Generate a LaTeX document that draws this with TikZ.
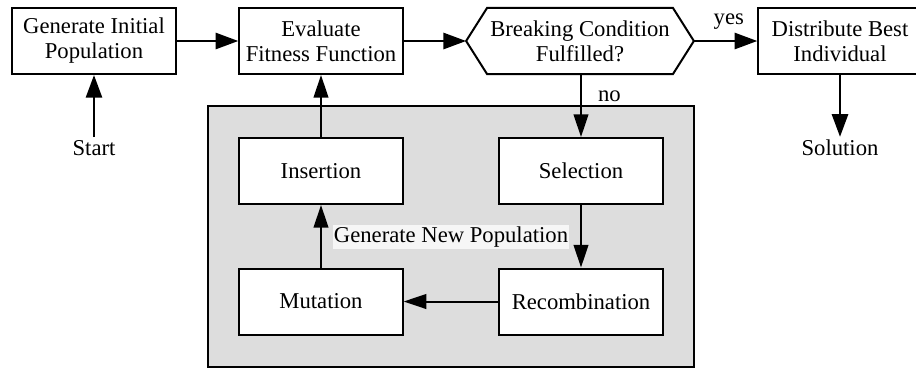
\documentclass[tikz,border=0pt]{standalone}
\usepackage{fontspec}
\setmainfont{Liberation Serif}
\usetikzlibrary{arrows.meta,calc}

\tikzset{every picture/.style={line width=0.75pt}}
\tikzset{
  procbox/.style={draw, line width=1.5pt, fill=white, align=center,
    minimum width=122.5pt, minimum height=49.5pt, inner sep=2pt},
  plaintext/.style={align=center, inner sep=2pt},
  flowarrow/.style={line width=2pt, -{Triangle[length=17pt,width=12pt]}},
  innerarrow/.style={line width=1.5pt, -{Triangle[length=17pt,width=11pt]}}
}

\begin{document}
\begin{tikzpicture}[x=0.75pt,y=0.75pt,yscale=-1,xscale=1,
  every node/.style={font=\fontsize{17}{18.8}\selectfont}]
\useasboundingbox (0,0) rectangle (916,380);

%Shape: grey panel of the inner loop
\draw [fill={rgb, 255:red, 221; green, 221; blue, 221 }, line width=1.5pt] (208,106) rectangle (694,367);

% Top row
\node (init) [procbox] at (94,41) {Generate Initial\\Population};
\node (eval) [procbox] at (321,41) {Evaluate\\Fitness Function};
\node (cond) [plaintext, minimum width=136.5pt, minimum height=49pt] at (580,41) {Breaking Condition\\Fulfilled?};
\node (best) [procbox] at (840,41) {Distribute Best\\Individual};

% Hexagon round the condition
\coordinate (condL) at ($(cond.west)+(-21,0)$);
\coordinate (condR) at ($(cond.east)+(21,0)$);
\draw [line width=1.5pt] (cond.north west) -- (cond.north east) -- (condR) -- (cond.south east) -- (cond.south west) -- (condL) -- cycle;

% Start and end
\node (start) [plaintext] at (94,148) {Start};
\node (solution) [plaintext] at (840,148) {Solution};

% Inner loop
\node (insert) [procbox] at (321,171) {Insertion};
\node (select) [procbox] at (581,171) {Selection};
\node (mutate) [procbox] at (321,301.5) {Mutation};
\node (recomb) [procbox] at (581,301.5) {Recombination};

% Connectors
\draw [flowarrow] (start) -- (init);
\draw [flowarrow] (init) -- (eval);
\draw [flowarrow] (eval) -- (condL);
\draw [flowarrow] (condR) -- (best) node [pos=0.55, above=6pt, plaintext] (yes) {yes};
\draw [flowarrow] (best) -- (solution);
\draw [innerarrow] (cond.south -| select.north) -- (select.north) node [pos=0.35, right=10pt, plaintext] (no) {no};
\draw [innerarrow] (select) -- (recomb);
\draw [innerarrow] (recomb) -- (mutate);
\draw [innerarrow] (mutate) -- (insert);
\draw [innerarrow] (insert) -- (eval);

% Text Node
\node (newpop) [plaintext, fill={rgb, 255:red, 246; green, 246; blue, 246 }, inner sep=1pt] at (451,237) {Generate New Population};

\end{tikzpicture}
\end{document}
